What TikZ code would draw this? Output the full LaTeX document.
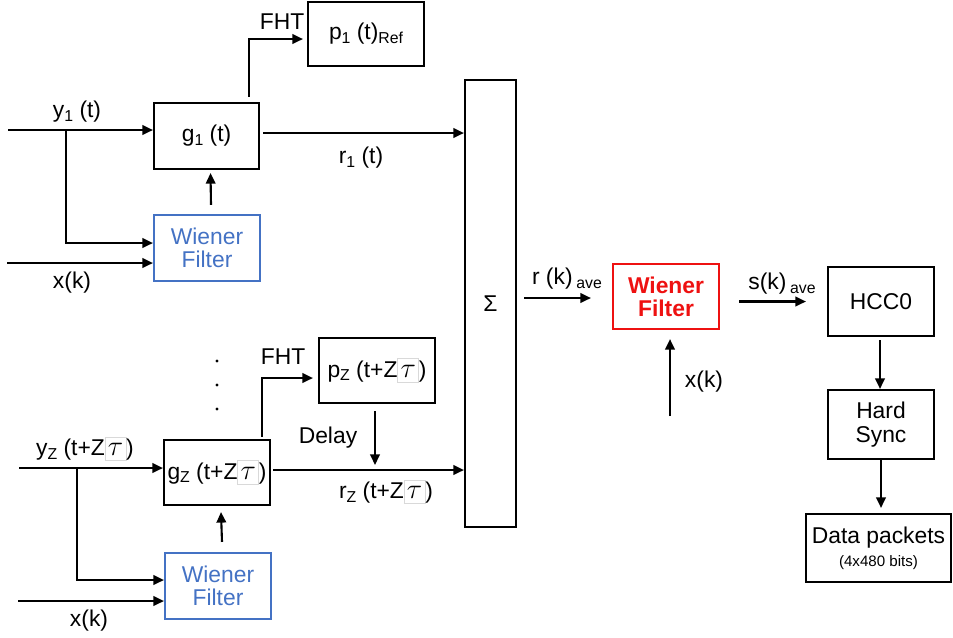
\documentclass[tikz,border=0pt]{standalone}
\usepackage{fontspec}
\setmainfont{Liberation Sans}
\usetikzlibrary{arrows.meta,calc}
\definecolor{wienerblue}{HTML}{4472C4}
\definecolor{wienerred}{HTML}{EE1111}
\newcommand{\lo}[1]{\raisebox{-2pt}{\fontsize{9}{9}\selectfont #1}}
\newcommand{\ztau}{{\setlength{\fboxsep}{1.2pt}\setlength{\fboxrule}{0.4pt}\fcolorbox{black!15}{white}{\makebox[9pt]{\rule[-1.5pt]{0pt}{10.5pt}\scalebox{1.35}{$\tau$}}}}}
\tikzset{
  blockbox/.style={draw,line width=1.2pt,minimum width=2.12cm,minimum height=1.32cm,align=center,inner sep=1pt},
  wienerbox/.style={blockbox,draw=wienerblue,text=wienerblue},
  sig/.style={line width=1.2pt,-{Triangle[length=6pt,width=5.4pt]}},
}

\begin{document}
\begin{tikzpicture}[x=0.02cm,y=-0.02cm,font=\fontsize{13}{13.2}\selectfont]
  \useasboundingbox (0,0) rectangle (953,637);
  \node[blockbox,minimum width=2.32cm,minimum height=1.28cm] (pone) at (366,34) {p\lo{1} (t)\lo{Ref}};
  \node[blockbox,minimum width=2.1cm] (gone) at (206.5,136) {g\lo{1} (t)};
  \node[wienerbox] (wone) at (207,248) {Wiener\\Filter};
  \node[blockbox,minimum width=1.02cm,minimum height=8.94cm] (sigma) at (490.5,303.5) {Σ};
  \node[blockbox,minimum width=2.32cm,minimum height=1.3cm] (ptwo) at (377,370.5) {p\lo{Z} (t+Z\ztau)};
  \node[blockbox,minimum height=1.3cm] (gtwo) at (217,472.5) {g\lo{Z} (t+Z\ztau)};
  \node[wienerbox] (wtwo) at (218,586) {Wiener\\Filter};
  \node[blockbox,minimum height=1.3cm,draw=wienerred,text=wienerred,font=\fontsize{13}{13.2}\selectfont\bfseries] (wred) at (666,296.5) {Wiener\\Filter};
  \node[blockbox,minimum height=1.38cm] (hcc) at (881,301.5) {HCC0};
  \node[blockbox,minimum height=1.38cm] (hard) at (881,424.5) {Hard\\Sync};
  \node[blockbox,minimum width=2.9cm,minimum height=1.36cm] (data) at (878.5,548) {Data packets\\{\fontsize{8.6}{10}\selectfont (4x480 bits)}};

  \node (lyone) at (77,112) {y\lo{1} (t)};
  \node (lxone) at (72,283) {x(k)};
  \node (lfhtone) at (282,22) {FHT};
  \node (lrone) at (361,158) {r\lo{1} (t)};
  \node (lfhttwo) at (283,357) {FHT};
  \node (ldelay) at (328,438) {Delay};
  \node (lytwo) at (85,449) {y\lo{Z} (t+Z\ztau)};
  \node (lrtwo) at (386,492) {r\lo{Z} (t+Z\ztau)};
  \node (lxtwo) at (89,621) {x(k)};
  \node (lrave) at (567,279) {r (k)\,\lo{ave}};
  \node (lsave) at (782,284) {s(k)\,\lo{ave}};
  \node (lxthree) at (704,382) {x(k)};
  \foreach \dy in {361,385,409}
    \fill (217,\dy) circle (1.6);

  \coordinate (yone) at (8,130);
  \coordinate (ysplitone) at (66,130);
  \coordinate (xone) at (7,263);
  \draw[sig] (yone) -- (gone.west |- yone);
  \draw[sig] (ysplitone) |- ($(wone.west)+(0,-5)$);
  \draw[sig] (xone) -- (wone.west |- xone);
  \draw[sig] ($(wone.north)+(4,-9)$) -- ($(gone.south)+(4,3)$);
  \draw[sig] ($(gone.north)+(42.5,-5)$) |- ($(pone.west)+(-4,5)$);
  \draw[sig] ($(gone.east)+(3,-3)$) coordinate (rone) -- (sigma.west |- rone);

  \coordinate (ytwo) at (19,468);
  \coordinate (ysplittwo) at (77,468);
  \coordinate (xtwo) at (18,601);
  \draw[sig] (ytwo) -- (gtwo.west |- ytwo);
  \draw[sig] (ysplittwo) |- ($(wtwo.west)+(0,-6)$);
  \draw[sig] (xtwo) -- (wtwo.west |- xtwo);
  \draw[sig] ($(wtwo.north)+(4,-10)$) -- ($(gtwo.south)+(4,6)$);
  \draw[sig] ($(gtwo.north)+(45,-2)$) |- ($(ptwo.west)+(-5,7.5)$);
  \draw[sig] ($(gtwo.east)+(2,-2.5)$) coordinate (rtwo) -- (sigma.west |- rtwo);
  \draw[sig] ($(ptwo.south)+(-2,7)$) -- ($(ptwo.south |- rtwo)+(-2,-5)$);

  \coordinate (xthree) at (670,416);
  \draw[sig] ($(sigma.east |- wred.west)+(7,1.5)$) -- ($(wred.west)+(-21,1.5)$);
  \draw[sig] (xthree) -- ($(wred.south)+(4,9)$);
  \draw[sig] ($(wred.east |- hcc.west)+(19,0)$) -- ($(hcc.west)+(-21,0)$);
  \draw[sig] ($(hcc.south)+(-1,3)$) -- ($(hard.north)+(-1,0)$);
  \draw[sig] (hard.south) -- ($(hard.south |- data.north)+(0,-5)$);
\end{tikzpicture}
\end{document}
